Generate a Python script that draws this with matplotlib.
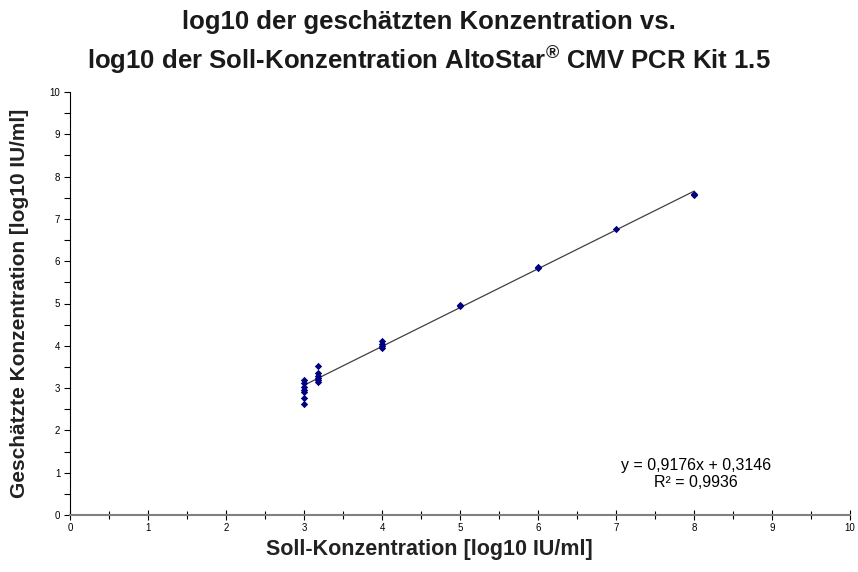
import matplotlib
matplotlib.use("Agg")
import matplotlib.pyplot as plt
import numpy as np
from matplotlib.ticker import MultipleLocator

plt.rcParams['font.family'] = ['Liberation Sans', 'DejaVu Sans']

# Data
x_vals = [3, 3, 3, 3, 3, 3, 3,
          3.18, 3.18, 3.18, 3.18, 3.18, 3.18,
          4, 4, 4, 4,
          5, 5,
          6, 6,
          7,
          8, 8]
y_vals = [3.19, 3.11, 3.03, 2.96, 2.90, 2.77, 2.62,
          3.53, 3.35, 3.29, 3.25, 3.19, 3.14,
          4.12, 4.05, 3.99, 3.95,
          4.93, 4.96,
          5.83, 5.86,
          6.75,
          7.57, 7.60]
slope = 0.9176
intercept = 0.3146
eq_text = "y = 0,9176x + 0,3146"
r2_text = "R² = 0,9936"
title1 = "log10 der geschätzten Konzentration vs."
title2 = "log10 der Soll-Konzentration AltoStar$^{\\mathregular{®}}$ CMV PCR Kit 1.5"
xlabel = "Soll-Konzentration [log10 IU/ml]"
ylabel = "Geschätzte Konzentration [log10 IU/ml]"

fig = plt.figure(figsize=(8.58, 5.72), dpi=100)
ax = fig.add_axes([70/858, 1-515/572, 780/858, 423/572])

xl = np.array([min(x_vals), max(x_vals)])
ax.plot(xl, slope*xl + intercept, color='#404040', lw=0.9, zorder=2)
ax.scatter(x_vals, y_vals, marker='D', s=14, color='#000080', zorder=3, linewidths=0)

ax.set_xlim(0, 10)
ax.set_ylim(0, 10)
ax.xaxis.set_major_locator(MultipleLocator(1))
ax.xaxis.set_minor_locator(MultipleLocator(0.5))
ax.yaxis.set_major_locator(MultipleLocator(1))
ax.yaxis.set_minor_locator(MultipleLocator(0.5))
for s in ['top', 'right']:
    ax.spines[s].set_visible(False)
ax.spines['bottom'].set_color('#808080')
ax.spines['bottom'].set_linewidth(1.5)
ax.spines['left'].set_color('black')
ax.spines['left'].set_linewidth(0.8)
ax.tick_params(axis='x', which='both', direction='inout', length=6, width=0.8, color='black', labelsize=7, pad=2)
ax.tick_params(axis='y', which='both', direction='out', length=4, width=0.8, color='black', labelsize=7, pad=3)
ax.tick_params(axis='x', which='major', length=7)

ax.text(0.8026, 0.117, eq_text, transform=ax.transAxes, ha='center', va='center', fontsize=11.5)
ax.text(0.8026, 0.077, r2_text, transform=ax.transAxes, ha='center', va='center', fontsize=11.5)

fig.text(0.5, 1-22/572, title1, ha='center', va='center', fontsize=18.5, fontweight='bold', color='#1a1a1a')
fig.text(0.5, 1-60/572, title2, ha='center', va='center', fontsize=18.5, fontweight='bold', color='#1a1a1a')

fig.text(0.5, 1-549/572, xlabel, ha='center', va='center', fontsize=15.5, fontweight='bold', color='#222222')
fig.text(20/858, 1-(92+515)/2/572, ylabel, ha='center', va='center', rotation=90, fontsize=15, fontweight='bold', color='#222222')

fig.savefig("out.png", dpi=100)
